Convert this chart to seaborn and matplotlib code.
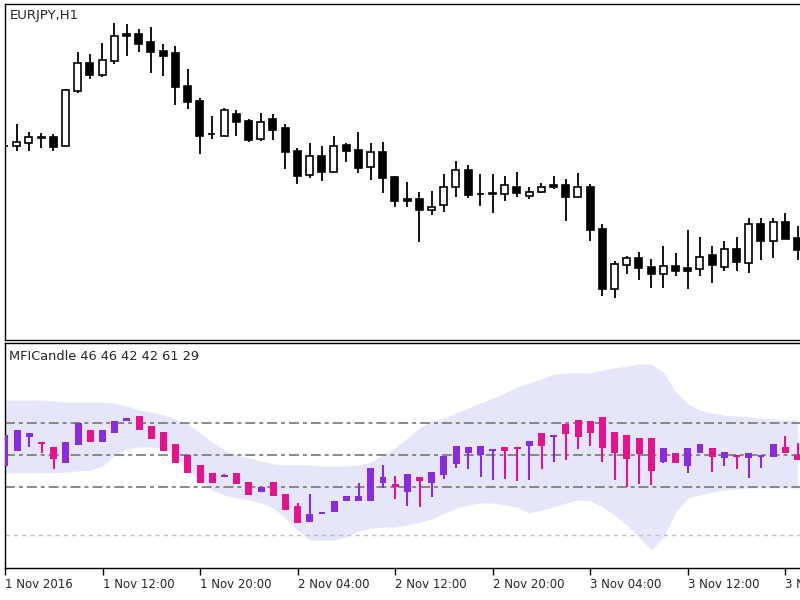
import numpy as np
import matplotlib
matplotlib.use("Agg")
import matplotlib.pyplot as plt
import seaborn as sns

# EURJPY H1 candles (bar 0 = 1 Nov 2016 04:00)
open_ = [114.770, 114.770, 114.785, 114.815, 114.815, 114.770, 115.045, 115.185, 115.125, 115.195,
         115.330, 115.330, 115.290, 115.245, 115.235, 115.070, 114.995, 114.830, 114.820, 114.930,
         114.895, 114.805, 114.905, 114.860, 114.745, 114.625, 114.720, 114.640, 114.775, 114.750,
         114.665, 114.740, 114.615, 114.505, 114.505, 114.450, 114.475, 114.565, 114.650, 114.530,
         114.530, 114.530, 114.565, 114.520, 114.540, 114.575, 114.575, 114.515, 114.565, 114.355,
         114.055, 114.175, 114.210, 114.165, 114.130, 114.170, 114.160, 114.155, 114.225, 114.165,
         114.255, 114.185, 114.380, 114.295, 114.390, 114.310]
high = [114.785, 114.880, 114.840, 114.835, 114.830, 115.055, 115.240, 115.230, 115.285, 115.385,
        115.380, 115.355, 115.365, 115.280, 115.270, 115.155, 115.010, 114.920, 114.960, 114.950,
        114.905, 114.935, 114.930, 114.880, 114.760, 114.785, 114.770, 114.820, 114.785, 114.840,
        114.785, 114.790, 114.620, 114.590, 114.540, 114.545, 114.630, 114.695, 114.675, 114.630,
        114.630, 114.620, 114.640, 114.565, 114.585, 114.620, 114.605, 114.635, 114.580, 114.380,
        114.195, 114.220, 114.240, 114.205, 114.270, 114.235, 114.350, 114.315, 114.270, 114.295,
        114.315, 114.410, 114.410, 114.410, 114.435, 114.370]
low = [114.755, 114.745, 114.745, 114.760, 114.745, 114.768, 115.035, 115.105, 115.115, 115.180,
       115.220, 115.240, 115.135, 115.120, 114.975, 114.955, 114.730, 114.805, 114.818, 114.820,
       114.790, 114.795, 114.800, 114.655, 114.580, 114.610, 114.595, 114.638, 114.690, 114.635,
       114.600, 114.535, 114.465, 114.465, 114.290, 114.425, 114.440, 114.515, 114.510, 114.470,
       114.435, 114.495, 114.515, 114.505, 114.535, 114.555, 114.395, 114.513, 114.295, 114.020,
       114.010, 114.130, 114.100, 114.060, 114.060, 114.120, 114.055, 114.120, 114.085, 114.145,
       114.145, 114.135, 114.200, 114.210, 114.305, 114.200]
close = [114.768, 114.790, 114.815, 114.812, 114.765, 115.050, 115.185, 115.125, 115.200, 115.320,
         115.320, 115.280, 115.240, 115.220, 115.065, 114.990, 114.820, 114.828, 114.950, 114.890,
         114.800, 114.890, 114.850, 114.740, 114.620, 114.720, 114.640, 114.770, 114.745, 114.660,
         114.740, 114.610, 114.495, 114.495, 114.450, 114.465, 114.565, 114.650, 114.525, 114.528,
         114.532, 114.575, 114.535, 114.540, 114.565, 114.565, 114.515, 114.565, 114.350, 114.055,
         114.180, 114.210, 114.160, 114.130, 114.170, 114.145, 114.145, 114.215, 114.175, 114.255,
         114.190, 114.380, 114.295, 114.390, 114.305, 114.250]

# MFI candles
mfi_open = [43.1, 52.5, 61.3, 57.5, 55.0, 45.0, 56.3, 65.6, 58.1, 63.8,
            71.3, 74.4, 68.1, 64.4, 56.9, 50.0, 43.8, 38.8, 36.3, 38.8,
            33.1, 26.9, 33.1, 25.6, 18.1, 8.1, 13.4, 14.4, 21.3, 21.3,
            21.3, 32.5, 31.9, 26.9, 36.3, 32.5, 37.5, 44.4, 51.3, 50.0,
            52.5, 55.0, 54.4, 55.6, 63.8, 61.3, 69.4, 71.9, 71.3, 73.8,
            64.4, 62.5, 60.6, 60.6, 45.6, 51.3, 43.1, 51.3, 54.4, 48.1,
            50.0, 48.1, 48.8, 48.8, 55.0, 50.0]
mfi_high = [62.5, 65.6, 63.8, 57.5, 55.0, 58.1, 70.0, 65.6, 65.6, 71.3,
            73.1, 74.4, 68.1, 64.4, 56.9, 50.0, 43.8, 38.8, 38.1, 38.8,
            33.1, 30.0, 33.1, 25.6, 20.0, 25.6, 13.8, 21.3, 24.4, 32.5,
            41.9, 43.8, 36.9, 38.1, 36.3, 39.4, 49.4, 55.6, 55.0, 55.6,
            53.8, 55.0, 54.4, 58.8, 63.8, 61.9, 69.4, 71.9, 71.3, 73.8,
            64.4, 62.5, 60.6, 60.6, 54.4, 51.3, 54.4, 56.9, 54.4, 51.9,
            50.0, 51.3, 49.4, 56.9, 61.9, 57.5]
mfi_low = [43.1, 52.5, 55.0, 51.3, 41.3, 45.0, 56.3, 58.1, 58.1, 63.8,
           71.3, 65.6, 60.0, 52.5, 45.0, 38.8, 32.5, 32.5, 36.3, 31.9,
           25.0, 26.9, 24.4, 15.6, 7.5, 8.1, 13.4, 14.4, 21.3, 21.3,
           21.3, 29.4, 22.5, 18.1, 17.5, 23.8, 35.0, 41.9, 41.3, 36.3,
           34.4, 35.0, 33.8, 34.4, 41.3, 45.6, 46.9, 53.8, 55.6, 45.6,
           34.4, 30.0, 31.9, 31.3, 45.0, 45.0, 38.8, 51.3, 39.4, 43.1,
           41.3, 35.6, 41.9, 48.8, 51.3, 46.9]
mfi_close = [62.5, 65.6, 63.8, 56.9, 47.5, 58.1, 70.0, 58.1, 65.6, 71.3,
             73.1, 65.6, 60.0, 52.5, 45.0, 38.8, 32.5, 32.5, 37.5, 31.9,
             25.0, 30.0, 24.4, 15.6, 7.5, 13.1, 13.8, 21.3, 24.4, 24.4,
             41.9, 36.3, 30.0, 38.1, 33.8, 39.4, 49.4, 55.6, 55.0, 55.6,
             53.8, 52.5, 53.8, 58.8, 55.6, 61.9, 63.1, 61.3, 63.8, 54.4,
             51.3, 47.5, 50.6, 40.0, 54.4, 45.0, 54.4, 56.9, 48.8, 51.9,
             48.8, 51.3, 49.4, 56.9, 51.3, 46.9]

# envelope band around the MFI
band_upper = [84.4, 84.4, 84.4, 84.4, 83.8, 83.1, 83.1, 83.1, 83.1, 82.5,
              80.6, 78.1, 76.9, 75.0, 72.5, 69.4, 63.8, 58.1, 53.1, 50.0,
              48.1, 46.3, 44.4, 43.8, 43.8, 43.8, 43.1, 43.1, 43.1, 43.8,
              45.6, 50.0, 54.4, 60.6, 66.9, 71.3, 73.1, 76.3, 79.4, 82.5,
              85.6, 88.8, 92.5, 95.0, 97.5, 100.6, 101.3, 101.3, 101.3, 103.1,
              104.4, 105.6, 106.9, 106.9, 101.9, 89.4, 81.9, 78.1, 76.3, 75.0,
              74.4, 73.8, 73.1, 72.5, 71.9, 71.9]
band_lower = [38.8, 38.8, 38.8, 38.8, 38.8, 39.4, 40.0, 40.6, 43.1, 50.0,
              53.8, 55.0, 55.0, 54.4, 48.1, 40.6, 34.4, 28.1, 25.0, 23.1,
              21.9, 20.0, 16.9, 10.6, 3.1, -3.1, -3.1, -3.1, -1.3, 2.5,
              4.4, 5.0, 5.0, 6.3, 8.1, 10.0, 13.8, 16.9, 18.8, 20.0,
              20.0, 18.8, 17.5, 13.8, 15.6, 17.5, 20.0, 21.9, 21.3, 17.5,
              12.5, 6.3, -1.3, -9.4, -1.3, 14.4, 23.1, 25.0, 26.9, 28.1,
              28.8, 29.4, 29.4, 29.4, 29.4, 29.4]

levels = [70, 50, 30]
tick_bars = [0, 8, 16, 24, 32, 40, 48, 56, 64]
tick_labels = ["1 Nov 2016", "1 Nov 12:00", "1 Nov 20:00", "2 Nov 04:00", "2 Nov 12:00",
               "2 Nov 20:00", "3 Nov 04:00", "3 Nov 12:00", "3 Nov 20:00"]

sns.set_style("white")
plt.rcParams['font.family'] = ['DejaVu Sans']

W, H = 800, 600
fig = plt.figure(figsize=(8, 6), dpi=100)
ax1 = fig.add_axes([5 / W, 1 - 340 / H, 1 - 5 / W, 336 / H])
ax2 = fig.add_axes([5 / W, 1 - 568 / H, 1 - 5 / W, 225 / H])

idx = np.arange(len(open_))
o = np.array(open_)
c = np.array(close)
width = 0.57

# price candles
ax1.vlines(idx, low, high, color="black", lw=1.3, zorder=2)
bottoms = np.minimum(o, c)
heights = np.maximum(np.abs(c - o), 0.004)
faces = ["white" if cc > oo else "black" for oo, cc in zip(o, c)]
ax1.bar(idx, heights, bottom=bottoms, width=width, color=faces,
        edgecolor="black", linewidth=1.2, zorder=3)
ax1.set_ylim(115.5 - 0.005 * 340, 115.5 - 0.005 * 4)

# MFI panel
purple = "#8A2BE2"
pink = "#E5128C"
mo = np.array(mfi_open)
mc = np.array(mfi_close)
ax2.fill_between(idx, band_lower, band_upper, color="#E6E6FA", lw=0, zorder=1)
for lv in levels:
    ax2.axhline(lv, color="#808080", lw=1.3, ls=(0, (5.5, 2.2, 2.2, 2.2)), zorder=2)
ax2.axhline(0, color="#C0C0C0", lw=1.0, ls=(0, (3, 3)), zorder=2)
cols = [purple if cc >= oo else pink for oo, cc in zip(mo, mc)]
ax2.vlines(idx, mfi_low, mfi_high, colors=cols, lw=1.5, zorder=3)
ax2.bar(idx, np.maximum(np.abs(mc - mo), 1.3), bottom=np.minimum(mo, mc), width=width,
        color=cols, linewidth=0, zorder=4)
ax2.set_ylim(-20.6, 120.0)

for ax in (ax1, ax2):
    ax.set_xlim(0.04, 65.2)
    ax.set_yticks([])
    ax.spines["right"].set_visible(False)
    for s in ("top", "left", "bottom"):
        ax.spines[s].set_color("black")
        ax.spines[s].set_linewidth(1.0)
ax1.set_xticks([])
ax2.set_xticks(tick_bars)
ax2.set_xticklabels(tick_labels, ha="left", fontsize=8.5)
ax2.tick_params(axis="x", direction="out", length=5, width=1, pad=2, color="black", bottom=True)

fig.text(10 / W, 1 - 15 / H, "EURJPY,H1", fontsize=9.5, va="center", ha="left")
fig.text(9 / W, 1 - 357 / H, "MFICandle 46 46 42 42 61 29", fontsize=9.3, va="center", ha="left")

fig.savefig("out.png", dpi=100)
